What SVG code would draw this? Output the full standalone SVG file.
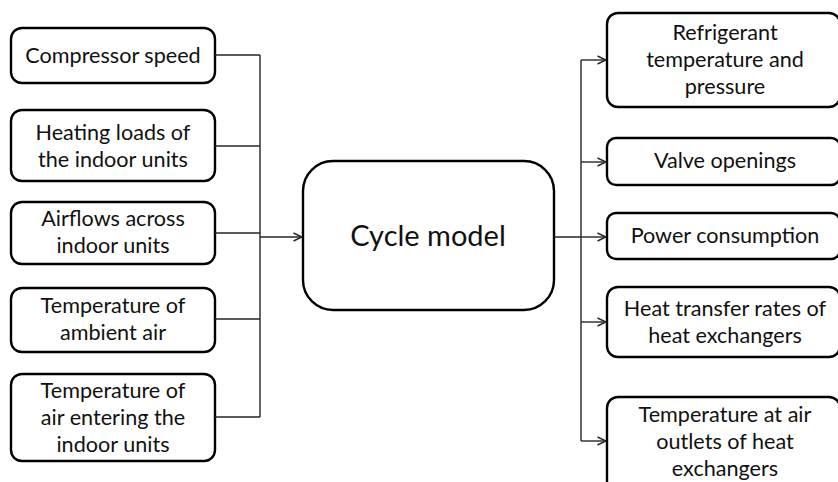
<svg xmlns="http://www.w3.org/2000/svg" width="838" height="482" viewBox="0 0 838 482">
<style>
.box{fill:#fff;stroke:#000;stroke-width:2.4}
.t{font-family:Lato,"Liberation Sans",sans-serif;font-size:21.6px;fill:#111;text-anchor:middle}
.big{font-size:29px}
.c{fill:none;stroke:#262626;stroke-width:1.4}
</style>
<defs>
<marker id="ah" viewBox="0 0 10 10" refX="9.5" refY="5" markerWidth="10" markerHeight="10" markerUnits="userSpaceOnUse" orient="auto">
<path d="M1,1 L9.5,5 L1,9" fill="none" stroke="#262626" stroke-width="1.4"/>
</marker>
</defs>
<g id="in1"><rect class="box" x="11" y="28" width="204" height="55" rx="11"/><text class="t" x="113" y="63">Compressor speed</text></g>
<g id="in2"><rect class="box" x="11" y="110" width="204" height="71" rx="11"/><text class="t" x="113" y="140">Heating loads of</text><text class="t" x="113" y="167">the indoor units</text></g>
<g id="in3"><rect class="box" x="11" y="202" width="204" height="62" rx="11"/><text class="t" x="113" y="226">Airflows across</text><text class="t" x="113" y="253">indoor units</text></g>
<g id="in4"><rect class="box" x="11" y="288" width="204" height="64" rx="11"/><text class="t" x="113" y="313">Temperature of</text><text class="t" x="113" y="340">ambient air</text></g>
<g id="in5"><rect class="box" x="11" y="374" width="204" height="87" rx="11"/><text class="t" x="113" y="398">Temperature of</text><text class="t" x="113" y="425">air entering the</text><text class="t" x="113" y="452">indoor units</text></g>
<g id="model"><rect class="box" x="303" y="161" width="251" height="149" rx="30"/><text class="t big" x="428" y="246">Cycle model</text></g>
<g id="out1"><rect class="box" x="607" y="13" width="233" height="94" rx="11"/><text class="t" x="725" y="40">Refrigerant</text><text class="t" x="725" y="67">temperature and</text><text class="t" x="725" y="94">pressure</text></g>
<g id="out2"><rect class="box" x="607" y="138" width="233" height="47" rx="9"/><text class="t" x="725" y="168">Valve openings</text></g>
<g id="out3"><rect class="box" x="607" y="213" width="233" height="46" rx="9"/><text class="t" x="725" y="243">Power consumption</text></g>
<g id="out4"><rect class="box" x="607" y="287" width="233" height="70" rx="11"/><text class="t" x="725" y="316">Heat transfer rates of</text><text class="t" x="725" y="343">heat exchangers</text></g>
<g id="out5"><rect class="box" x="607" y="397" width="233" height="100" rx="11"/><text class="t" x="725" y="422">Temperature at air</text><text class="t" x="725" y="449">outlets of heat</text><text class="t" x="725" y="476">exchangers</text></g>
<g id="connectors">
<path class="c" d="M215,55 H260 M215,146 H260 M215,233 H260 M215,319 H260 M215,417 H260 M260,55 V417"/>
<path class="c" d="M260,237 H302" marker-end="url(#ah)"/>
<path class="c" d="M554,237 H581 M581,60 V441"/>
<path class="c" d="M581,60 H606" marker-end="url(#ah)"/>
<path class="c" d="M581,162 H606" marker-end="url(#ah)"/>
<path class="c" d="M581,237 H606" marker-end="url(#ah)"/>
<path class="c" d="M581,322 H606" marker-end="url(#ah)"/>
<path class="c" d="M581,441 H606" marker-end="url(#ah)"/>
</g>
</svg>
